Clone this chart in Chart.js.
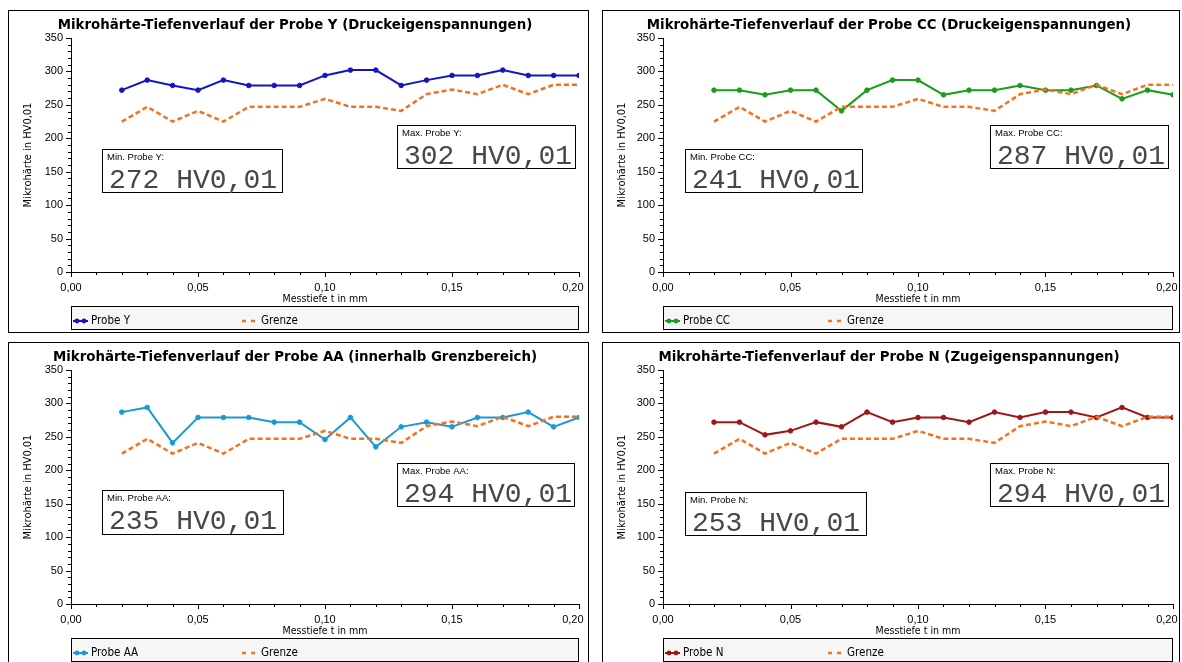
<!DOCTYPE html>
<html>
<head>
<meta charset="utf-8">
<script src="https://cdn.jsdelivr.net/npm/chart.js@4.4.1/dist/chart.umd.min.js"></script>
<style>
  html, body { margin: 0; padding: 0; background: #fff; width: 1182px; height: 662px; overflow: hidden; }
  canvas { position: absolute; }
  .frame { position: absolute; box-sizing: border-box; border: 1px solid #000; pointer-events: none; }
</style>
</head>
<body>
<script>
// Messtiefen (mm) und Härtewerte (HV0,01)
const depthMm  = [0.02, 0.03, 0.04, 0.05, 0.06, 0.07, 0.08, 0.09, 0.10, 0.11, 0.12, 0.13, 0.14, 0.15, 0.16, 0.17, 0.18, 0.19, 0.20];
const grenzeHV = [225, 247, 225, 241, 225, 247, 247, 247, 259, 247, 247, 241, 266, 273, 266, 280, 266, 280, 280];
const probeY   = [272, 287, 279, 272, 287, 279, 279, 279, 294, 302, 302, 279, 287, 294, 294, 302, 294, 294, 294];
const probeCC  = [272, 272, 265, 272, 272, 241, 272, 287, 287, 265, 272, 272, 279, 272, 272, 279, 259, 272, 265];
const probeAA  = [287, 294, 241, 279, 279, 279, 272, 272, 246, 279, 235, 265, 272, 265, 279, 279, 287, 265, 279];
const probeN   = [272, 272, 253, 259, 272, 265, 287, 272, 279, 279, 272, 287, 279, 287, 287, 279, 294, 279, 279];

// Achsen
const xRange = [0, 0.20];
const xMajorStep = 0.05, xMinorStep = 0.01;
const yRange = [0, 350];
const yMajorStep = 50, yMinorStep = 10;
const unit = 'HV0,01';

// Schriften: schmale Schrift für Achsentitel und Legende, falls vorhanden
const probeCtx = document.createElement('canvas').getContext('2d');
function fontExists(fam) {
  const s = 'Messtiefe HV0,01 WwMm';
  probeCtx.font = '40px monospace';
  const a = probeCtx.measureText(s).width;
  probeCtx.font = `40px "${fam}", monospace`;
  return probeCtx.measureText(s).width !== a;
}
function sizeFor(fam, weight, text, width) {
  probeCtx.font = `${weight} 20px "${fam}"`;
  return 20 * width / probeCtx.measureText(text).width;
}
const narrowFam = ['Liberation Sans Narrow', 'DejaVu Sans Condensed'].find(fontExists) || 'Liberation Sans';
const narrowStack = `"${narrowFam}", "Liberation Sans", sans-serif`;
const xTitleSize  = sizeFor(narrowFam, 'normal', 'Messtiefe t in mm', 85);
const yTitleSize  = sizeFor(narrowFam, 'normal', 'Mikrohärte in HV0,01', 105);
const legendSize  = sizeFor(narrowFam, 'normal', 'Probe Y', 39);
const titleSize   = sizeFor('DejaVu Sans', 'bold', 'Mikrohärte-Tiefenverlauf der Probe Y (Druckeigenspannungen)', 475);

const panels = [
  { name: 'Probe Y',  values: probeY,  color: '#1414c4', sub: 'Druckeigenspannungen',
    left: 8,   top: 10,  w: 581, h: 323, plotL: 63, plotR: 571,
    minBox: [94, 139, 181, 44], maxBox: [389, 115, 179, 44], col2: 171 },
  { name: 'Probe CC', values: probeCC, color: '#1c9c1c', sub: 'Druckeigenspannungen',
    left: 602, top: 10,  w: 578, h: 323, plotL: 61, plotR: 571,
    minBox: [83, 139, 178, 44], maxBox: [388, 115, 179, 44], col2: 165 },
  { name: 'Probe AA', values: probeAA, color: '#1a9ad2', sub: 'innerhalb Grenzbereich',
    left: 8,   top: 342, w: 581, h: 323, plotL: 63, plotR: 571,
    minBox: [94, 148, 182, 45], maxBox: [389, 121, 178, 44], col2: 171 },
  { name: 'Probe N',  values: probeN,  color: '#a01616', sub: 'Zugeigenspannungen',
    left: 602, top: 342, w: 578, h: 323, plotL: 61, plotR: 571,
    minBox: [83, 150, 182, 44], maxBox: [388, 121, 179, 44], col2: 165 }
];

const PLOT_TOP = 28, PLOT_BOTTOM = 262, LEGEND_TOP = 296, LEGEND_H = 24;
const GRENZE_COLOR = '#f5711e';
const tickFont = { family: '"Liberation Sans", Arial, sans-serif', size: 11 };

// Titel, Teilstriche, Min/Max-Kästen und Legende
const decor = {
  id: 'decor',
  afterDraw(chart, args, o) {
    const { ctx, chartArea: a } = chart;
    const xs = chart.scales.x, ys = chart.scales.y;
    ctx.save();

    ctx.fillStyle = '#000';
    ctx.font = `bold ${titleSize}px "DejaVu Sans"`;
    ctx.textAlign = 'center';
    ctx.textBaseline = 'alphabetic';
    ctx.fillText(o.title, 287, 18.5);

    ctx.strokeStyle = '#000';
    ctx.lineWidth = 1;
    ctx.beginPath();
    for (let v = yRange[0]; v <= yRange[1] + 1e-9; v += yMinorStep) {
      const py = Math.round(ys.getPixelForValue(v)) + 0.5;
      const len = Math.abs(v % yMajorStep) < 1e-6 ? 5 : 3;
      ctx.moveTo(a.left - len, py); ctx.lineTo(a.left, py);
    }
    const nX = Math.round((xRange[1] - xRange[0]) / xMinorStep);
    const perMajor = Math.round(xMajorStep / xMinorStep);
    for (let i = 0; i <= nX; i++) {
      const px = Math.round(xs.getPixelForValue(xRange[0] + i * xMinorStep)) + 0.5;
      const len = i % perMajor === 0 ? 5 : 3;
      ctx.moveTo(px, a.bottom); ctx.lineTo(px, a.bottom + len);
    }
    ctx.stroke();

    const vals = chart.data.datasets[0].data.map(d => d.y);
    const mn = Math.min(...vals), mx = Math.max(...vals);
    const box = (r, label, value) => {
      const [bx, by, bw, bh] = r;
      ctx.fillStyle = '#fff';
      ctx.fillRect(bx, by, bw, bh);
      ctx.strokeStyle = '#000';
      ctx.strokeRect(bx + 0.5, by + 0.5, bw - 1, bh - 1);
      ctx.fillStyle = '#000';
      ctx.textAlign = 'left';
      ctx.textBaseline = 'middle';
      ctx.font = '9.5px "Liberation Sans"';
      ctx.fillText(label, bx + 5, by + 8);
      ctx.fillStyle = '#474747';
      ctx.textBaseline = 'alphabetic';
      ctx.font = '28px "Liberation Mono", "Courier New", monospace';
      ctx.fillText(value, bx + 7, by + 39);
    };
    box(o.minBox, `Min. ${o.name}:`, `${mn} ${unit}`);
    box(o.maxBox, `Max. ${o.name}:`, `${mx} ${unit}`);

    // Legende
    const lx = a.left, lw = a.right - a.left;
    ctx.fillStyle = '#f6f6f6';
    ctx.fillRect(lx, LEGEND_TOP, lw, LEGEND_H);
    ctx.strokeStyle = '#000';
    ctx.strokeRect(lx + 0.5, LEGEND_TOP + 0.5, lw - 1, LEGEND_H - 1);
    const cy = LEGEND_TOP + 15;
    const ds0 = chart.data.datasets[0], ds1 = chart.data.datasets[1];
    ctx.strokeStyle = ds0.borderColor;
    ctx.lineWidth = 2;
    ctx.beginPath(); ctx.moveTo(lx + 2, cy); ctx.lineTo(lx + 17, cy); ctx.stroke();
    ctx.fillStyle = ds0.borderColor;
    [lx + 6, lx + 13].forEach(px => { ctx.beginPath(); ctx.arc(px, cy, 2.4, 0, Math.PI * 2); ctx.fill(); });
    ctx.strokeStyle = ds1.borderColor;
    ctx.lineWidth = 2.5;
    ctx.beginPath();
    ctx.moveTo(lx + o.col2, cy); ctx.lineTo(lx + o.col2 + 4, cy);
    ctx.moveTo(lx + o.col2 + 9, cy); ctx.lineTo(lx + o.col2 + 13, cy);
    ctx.stroke();
    ctx.fillStyle = '#000';
    ctx.font = `${legendSize}px ${narrowStack}`;
    ctx.textAlign = 'left';
    ctx.textBaseline = 'middle';
    ctx.fillText(ds0.label, lx + 20, cy);
    ctx.fillText(ds1.label, lx + o.col2 + 19, cy);
    ctx.restore();
  }
};

panels.forEach(p => {
  const cv = document.createElement('canvas');
  cv.width = p.w; cv.height = p.h;
  cv.style.left = p.left + 'px'; cv.style.top = p.top + 'px';
  document.body.appendChild(cv);
  const fr = document.createElement('div');
  fr.className = 'frame';
  Object.assign(fr.style, { left: p.left + 'px', top: p.top + 'px', width: p.w + 'px', height: p.h + 'px' });
  document.body.appendChild(fr);

  const xTitleLH = xTitleSize;
  const xScaleH = (289 + xTitleLH / 2) - PLOT_BOTTOM;

  new Chart(cv, {
    type: 'line',
    data: {
      datasets: [
        { label: p.name, data: depthMm.map((x, i) => ({ x, y: p.values[i] })),
          borderColor: p.color, backgroundColor: p.color, borderWidth: 2,
          pointRadius: 2.3, pointBackgroundColor: p.color, pointBorderColor: p.color, pointBorderWidth: 1,
          tension: 0, order: 1 },
        { label: 'Grenze', data: depthMm.map((x, i) => ({ x, y: grenzeHV[i] })),
          borderColor: GRENZE_COLOR, backgroundColor: GRENZE_COLOR, borderWidth: 2.5, borderDash: [5, 3],
          pointRadius: 0, tension: 0, order: 0 }
      ]
    },
    options: {
      responsive: false, animation: false, events: [],
      layout: { padding: { left: 0, right: p.w - p.plotR, top: PLOT_TOP, bottom: p.h - PLOT_BOTTOM - xScaleH } },
      plugins: {
        legend: { display: false }, tooltip: { enabled: false }, title: { display: false },
        decor: { title: `Mikrohärte-Tiefenverlauf der ${p.name} (${p.sub})`, name: p.name,
                 minBox: p.minBox, maxBox: p.maxBox, col2: p.col2 }
      },
      scales: {
        x: {
          type: 'linear', min: xRange[0], max: xRange[1],
          grid: { display: false, drawTicks: false },
          border: { display: true, color: '#000', width: 1 },
          ticks: { stepSize: xMajorStep, padding: 9, color: '#000', font: tickFont, maxRotation: 0, autoSkip: false,
                   // the last label is nudged inward so it stays inside the frame
                   callback: (v, i, t) => v.toFixed(2).replace('.', ',') + (i === t.length - 1 ? '    ' : '') },
          title: { display: true, text: 'Messtiefe t in mm', color: '#000',
                   font: { family: narrowStack, size: xTitleSize, lineHeight: 1 }, padding: { top: 0, bottom: 0 } },
          afterFit: s => { s.height = xScaleH; s.paddingLeft = 0; s.paddingRight = 0; }
        },
        y: {
          type: 'linear', min: yRange[0], max: yRange[1],
          grid: { display: false, drawTicks: false },
          border: { display: true, color: '#000', width: 1 },
          ticks: { stepSize: yMajorStep, padding: 8, color: '#000', font: tickFont },
          title: { display: true, text: 'Mikrohärte in HV0,01', color: '#000',
                   font: { family: narrowStack, size: yTitleSize, lineHeight: 1 },
                   padding: { top: 20.5 - yTitleSize / 2, bottom: 0 } },
          afterFit: s => { s.width = p.plotL; s.paddingTop = 0; s.paddingBottom = 0; }
        }
      }
    },
    plugins: [decor]
  });
});
</script>
</body>
</html>
